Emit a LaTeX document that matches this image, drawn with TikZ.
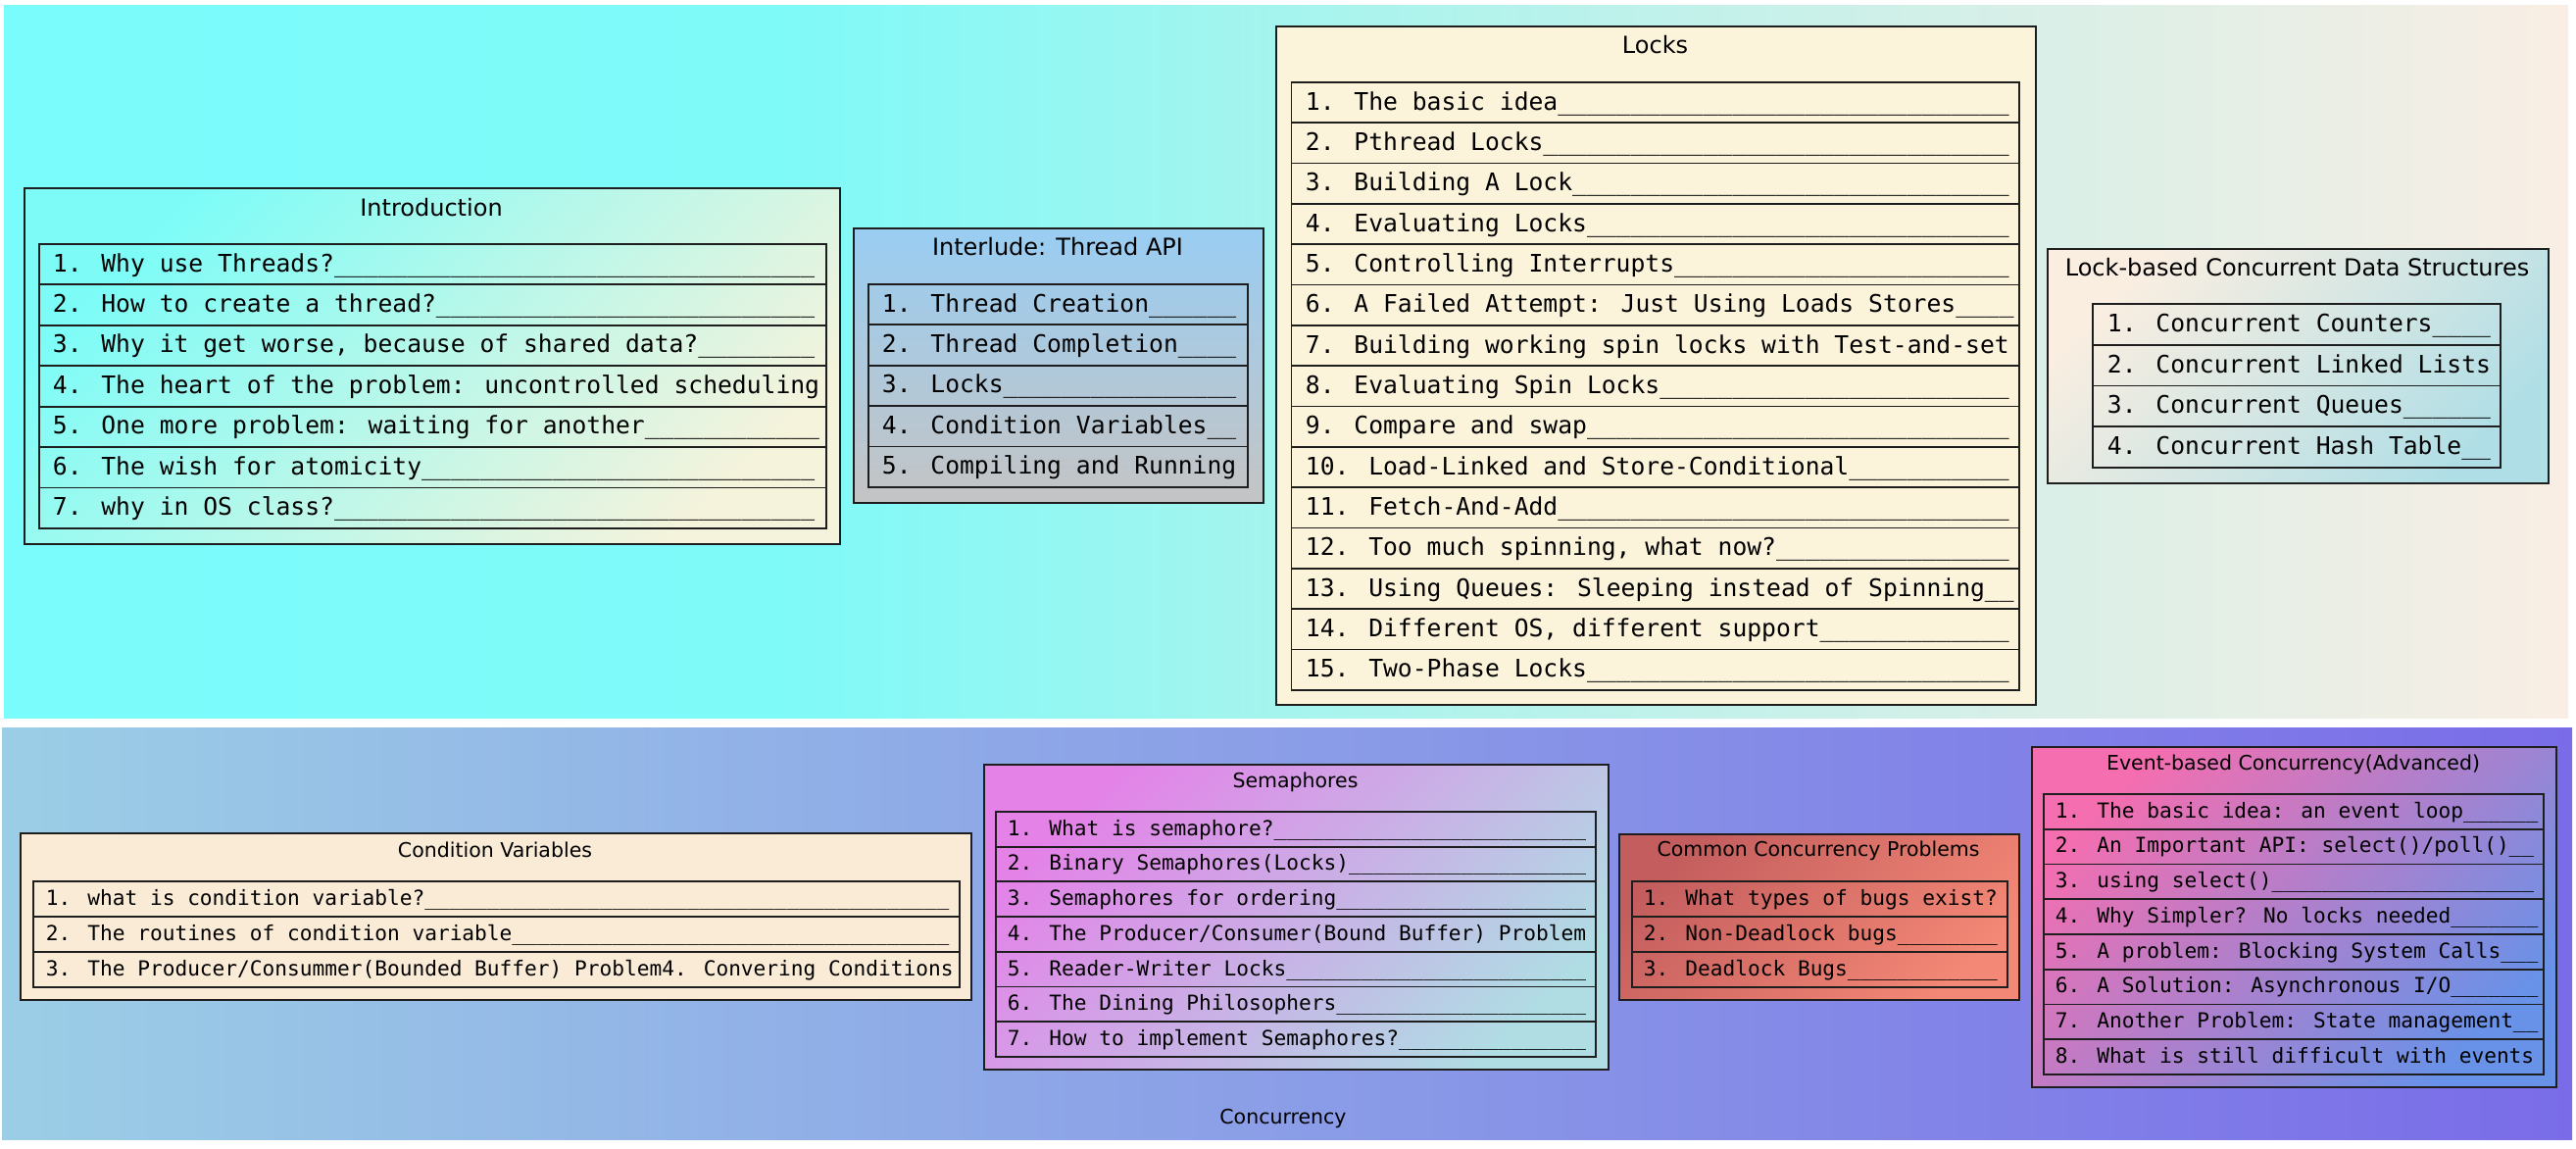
\documentclass[tikz,border=0pt]{standalone}
\usepackage{fontspec}
\setmainfont{DejaVu Sans}
\newfontfamily\monofnt{DejaVu Sans Mono}
\ExplSyntaxOn
\NewDocumentCommand\uscore{m}{\prg_replicate:nn{#1}{\textunderscore}}
\ExplSyntaxOff
\definecolor{linec}{RGB}{30,30,30}
\definecolor{tpA}{RGB}{122,252,252}
\definecolor{tpB}{RGB}{126,250,248}
\definecolor{tpC}{RGB}{166,244,238}
\definecolor{tpD}{RGB}{218,239,231}
\definecolor{tpE}{RGB}{249,238,228}
\definecolor{btA}{RGB}{155,206,230}
\definecolor{btB}{RGB}{122,108,232}
\definecolor{introA}{RGB}{125,252,247}
\definecolor{introB}{RGB}{245,243,220}
\definecolor{interA}{RGB}{153,205,242}
\definecolor{interB}{RGB}{196,196,196}
\definecolor{locksF}{RGB}{252,243,219}
\definecolor{lbA}{RGB}{250,238,225}
\definecolor{lbB}{RGB}{176,222,230}
\definecolor{cvF}{RGB}{250,235,215}
\definecolor{semA}{RGB}{228,130,232}
\definecolor{semB}{RGB}{176,220,228}
\definecolor{ccpA}{RGB}{196,94,94}
\definecolor{ccpB}{RGB}{244,136,118}
\definecolor{evA}{RGB}{244,110,176}
\definecolor{evB}{RGB}{104,146,232}
\pgfdeclarehorizontalshading{toppanel}{100bp}{color(0bp)=(tpA); color(25bp)=(tpA); color(40bp)=(tpB); color(50bp)=(tpC); color(65bp)=(tpD); color(75bp)=(tpE); color(100bp)=(tpE)}
\newcommand\itemA{\monofnt\fontsize{24.67}{37.5}\selectfont}
\newcommand\itemB{\monofnt\fontsize{21.16}{32.2}\selectfont}
\newcommand\rowlist[8]{%
  \foreach \txt [count=\i] in {#8} {%
    \node[rowbox, font=#7, minimum width=#4pt, minimum height=#5pt, inner xsep=#6pt]
      (#1-\i) at (#2, {#3+(\i-1)*#5}) {\hbox to \dimexpr #4pt-#6pt-#6pt\relax{\strut\txt\hss}};
  }%
}
\begin{document}
\begin{tikzpicture}[x=1pt,y=-1pt,
  panel/.style={rectangle, inner sep=0pt, anchor=north west},
  outerbox/.style={rectangle, draw=linec, line width=2.2pt, inner sep=0pt, anchor=north west},
  rowbox/.style={rectangle, draw=linec, line width=1.8pt, inner ysep=0pt, anchor=north west},
  ttlA/.style={anchor=base, font=\fontsize{24}{29}\selectfont},
  ttlB/.style={anchor=base, font=\fontsize{20.5}{25}\selectfont}]
\useasboundingbox (0,0) rectangle (2628,1172);
\fill[white] (0,0) rectangle (2628,1172);
% panels
\node[panel, shading=toppanel, minimum width=2616pt, minimum height=727pt] (toppanel) at (4,5) {};
\node[panel, left color=btA, right color=btB, minimum width=2622pt, minimum height=420pt] (botpanel) at (2,742) {};
\node[ttlB, font=\fontsize{20.5}{25}\selectfont] (conc-label) at (1309,1146) {Concurrency};
% Introduction
\node[outerbox, top color=introA, bottom color=introB, shading angle=45, minimum width=832pt, minimum height=363pt] (intro) at (24,191) {};
\node[ttlA] (intro-title) at (440,220) {Introduction};
\rowlist{intro}{39}{248}{803}{41.43}{14}{\itemA}{%
1. Why use Threads?\uscore{33},
2. How to create a thread?\uscore{26},
{3. Why it get worse, because of shared data?\uscore{8}},
4. The heart of the problem: uncontrolled scheduling,
5. One more problem: waiting for another\uscore{12},
6. The wish for atomicity\uscore{27},
7. why in OS class?\uscore{33}}
% Interlude
\node[outerbox, top color=interA, bottom color=interB, minimum width=418pt, minimum height=280pt] (inter) at (870,232) {};
\node[ttlA] (inter-title) at (1079,260.7) {Interlude: Thread API};
\rowlist{inter}{885}{289}{387}{41.4}{14}{\itemA}{%
1. Thread Creation\uscore{6},
2. Thread Completion\uscore{4},
3. Locks\uscore{16},
4. Condition Variables\uscore{2},
5. Compiling and Running}
% Locks
\node[outerbox, fill=locksF, minimum width=775pt, minimum height=692pt] (locks) at (1301,26) {};
\node[ttlA] (locks-title) at (1688.5,54.5) {Locks};
\rowlist{locks}{1316.5}{83}{742.5}{41.33}{14.5}{\itemA}{%
1. The basic idea\uscore{31},
2. Pthread Locks\uscore{32},
3. Building A Lock\uscore{30},
4. Evaluating Locks\uscore{29},
5. Controlling Interrupts\uscore{23},
6. A Failed Attempt: Just Using Loads Stores\uscore{4},
7. Building working spin locks with Test-and-set,
8. Evaluating Spin Locks\uscore{24},
9. Compare and swap\uscore{29},
10. Load-Linked and Store-Conditional\uscore{11},
11. Fetch-And-Add\uscore{31},
{12. Too much spinning, what now?\uscore{16}},
13. Using Queues: Sleeping instead of Spinning\uscore{2},
{14. Different OS, different support\uscore{13}},
15. Two-Phase Locks\uscore{29}}
% Lock-based Concurrent Data Structures
\node[outerbox, top color=lbA, bottom color=lbB, shading angle=45, minimum width=511pt, minimum height=239pt] (lbcds) at (2088,253) {};
\node[ttlA] (lbcds-title) at (2343.5,281.5) {Lock-based Concurrent Data Structures};
\rowlist{lbcds}{2134}{309}{416}{41.75}{15}{\itemA}{%
1. Concurrent Counters\uscore{4},
2. Concurrent Linked Lists,
3. Concurrent Queues\uscore{6},
4. Concurrent Hash Table\uscore{2}}
% Condition Variables
\node[outerbox, fill=cvF, minimum width=970pt, minimum height=170pt] (cv) at (20,849) {};
\node[ttlB] (cv-title) at (505,874) {Condition Variables};
\rowlist{cv}{33}{898}{945}{35.9}{13}{\itemB}{%
1. what is condition variable?\uscore{42},
2. The routines of condition variable\uscore{35},
3. The Producer/Consummer(Bounded Buffer) Problem4. Convering Conditions}
% Semaphores
\node[outerbox, top color=semA, bottom color=semB, shading angle=45, minimum width=637pt, minimum height=311pt] (sem) at (1003,779) {};
\node[ttlB] (sem-title) at (1321.5,803.3) {Semaphores};
\rowlist{sem}{1015}{827}{612}{35.7}{12}{\itemB}{%
1. What is semaphore?\uscore{25},
2. Binary Semaphores(Locks)\uscore{19},
3. Semaphores for ordering\uscore{20},
4. The Producer/Consumer(Bound Buffer) Problem,
5. Reader-Writer Locks\uscore{24},
6. The Dining Philosophers\uscore{20},
7. How to implement Semaphores?\uscore{15}}
% Common Concurrency Problems
\node[outerbox, top color=ccpA, bottom color=ccpB, shading angle=45, minimum width=408pt, minimum height=169pt] (ccp) at (1651,850) {};
\node[ttlB] (ccp-title) at (1855,873.3) {Common Concurrency Problems};
\rowlist{ccp}{1664}{898}{383}{36}{12}{\itemB}{%
1. What types of bugs exist?,
2. Non-Deadlock bugs\uscore{8},
3. Deadlock Bugs\uscore{12}}
% Event-based Concurrency
\node[outerbox, top color=evA, bottom color=evB, shading angle=45, minimum width=535pt, minimum height=347pt] (ev) at (2072,761) {};
\node[ttlB] (ev-title) at (2339.5,785) {Event-based Concurrency(Advanced)};
\rowlist{ev}{2084}{809}{510}{35.75}{12}{\itemB}{%
1. The basic idea: an event loop\uscore{6},
2. An Important API: select()/poll()\uscore{2},
3. using select()\uscore{21},
4. Why Simpler? No locks needed\uscore{7},
5. A problem: Blocking System Calls\uscore{3},
6. A Solution: Asynchronous I/O\uscore{7},
7. Another Problem: State management\uscore{2},
8. What is still difficult with events}
\end{tikzpicture}
\end{document}
